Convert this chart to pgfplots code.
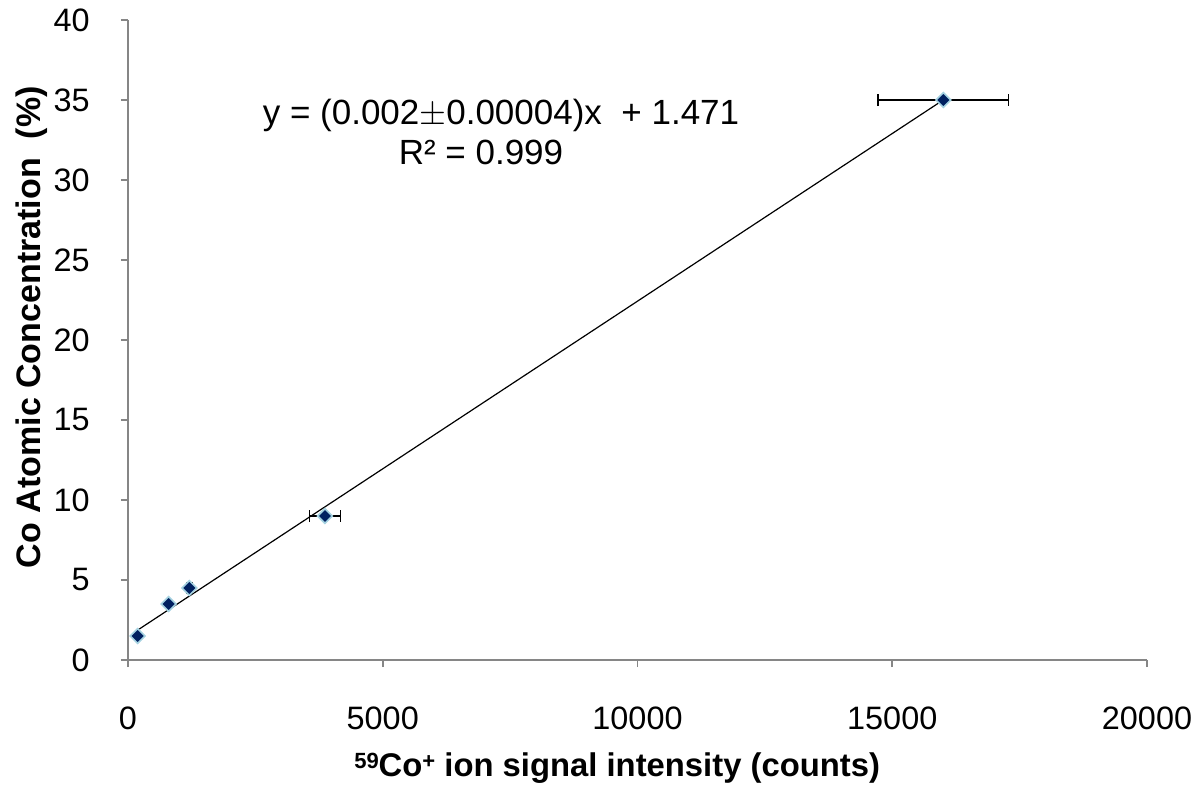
\documentclass[border=0pt]{standalone}
\usepackage{fontspec}
\setmainfont{Liberation Sans}
\usepackage{pgfplots}
\pgfplotsset{compat=1.18}
\definecolor{mk}{RGB}{0,32,96}
\definecolor{halo}{RGB}{165,210,225}
\definecolor{ax}{RGB}{134,134,134}
\begin{document}
\begin{tikzpicture}
\path[use as bounding box] (-64pt,-63pt) rectangle (532pt,330pt);
\begin{axis}[
  at={(0,0)}, anchor=south west,
  scale only axis, width=509.5pt, height=320pt,
  xmin=0, xmax=20000, ymin=0, ymax=40,
  axis x line*=bottom, axis y line*=left,
  axis line style={ax, line width=0.8pt, -},
  every tick/.style={ax, line width=0.8pt},
  tick align=outside, major tick length=3.5pt,
  xtick={0,5000,...,20000}, ytick={0,5,...,40},
  scaled x ticks=false,
  /pgf/number format/assume math mode=true,
  /pgf/number format/1000 sep={},
  tick label style={font=\fontsize{16.2pt}{18pt}\selectfont, black, inner sep=0pt},
  xticklabel style={anchor=center, yshift=-25.5pt},
  yticklabel style={anchor=east, xshift=-15.5pt},
  xlabel={\textbf{\raisebox{0.45ex}{\fontsize{11pt}{12pt}\selectfont 59}Co\raisebox{0.45ex}{\fontsize{11pt}{12pt}\selectfont +} ion signal intensity (counts)}},
  ylabel={\textbf{Co Atomic Concentration\ \ (\%)}},
  xlabel style={font=\fontsize{16.4pt}{18pt}\selectfont, at={(axis description cs:0.48,0)}, anchor=base, yshift=-58pt},
  ylabel style={font=\fontsize{17pt}{19pt}\selectfont, at={(axis description cs:0,0.52)}, anchor=base, yshift=43.5pt},
  clip=false,
]
\addplot[black, line width=0.6pt] coordinates {(190,1.87) (16000,35.0)};
\addplot[only marks, mark=square*, mark size=2.6pt,
  mark options={fill=mk, draw=halo, line width=0.8pt, rotate=45}]
  table[x=x, y=y] {
  x y
  190 1.5
  798 3.5
};
\addplot[only marks, mark=square*, mark size=2.6pt,
  mark options={fill=mk, draw=halo, line width=0.8pt, rotate=45},
  error bars/.cd, x dir=both, x explicit,
  error bar style={black, line width=0.7pt},
  error mark options={black, line width=0.7pt, mark size=3pt, rotate=90}]
  table[x=x, y=y, x error=ex] {
  x y ex
  1204 4.5 60
  3866 9.0 305
  16002 35.0 1280
};
\node[font=\fontsize{17.5pt}{19pt}\selectfont] at (axis cs:7321,34.06) {y = (0.002$\pm$0.00004)x\ \ + 1.471};
\node[font=\fontsize{17.5pt}{19pt}\selectfont] at (axis cs:6928,31.75) {R² = 0.999};
\end{axis}
\end{tikzpicture}
\end{document}
